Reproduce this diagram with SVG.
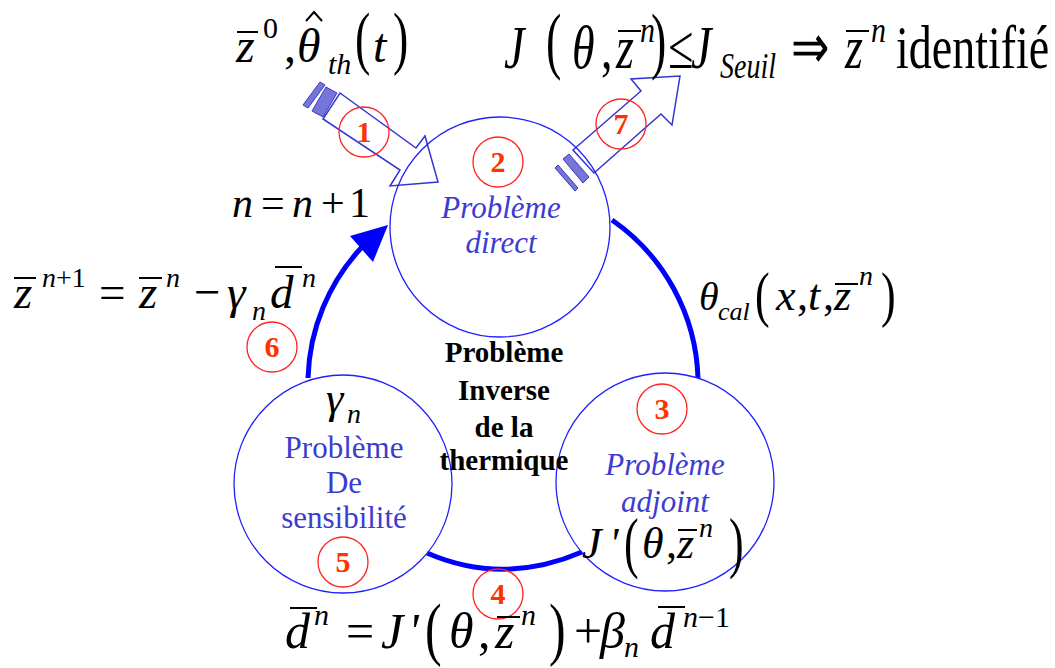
<svg xmlns="http://www.w3.org/2000/svg" width="1055" height="668" viewBox="0 0 1055 668">
<style>
.node{fill:none;stroke:#1f1fff;stroke-width:1.3}
.flow{fill:none;stroke:#0000ff;stroke-width:5}
.blk{fill:none;stroke:#3434d4;stroke-width:1.5;stroke-linejoin:miter}
.stripe{fill:#7676d8;stroke:#3a3ac4;stroke-width:1}
.badge{fill:none;stroke:#ff2424;stroke-width:1.3}
.num{font-family:"Liberation Serif",serif;font-weight:bold;font-size:30px;fill:#ff3300;text-anchor:middle}
.lbl{font-family:"Liberation Serif",serif;font-size:31px;fill:#3c3cd0;text-anchor:middle}
.it{font-style:italic}
.ctr{font-family:"Liberation Serif",serif;font-weight:bold;font-size:29px;fill:#000;text-anchor:middle}
.eq{font-family:"Liberation Serif",serif;fill:#000}
.eqi{font-family:"Liberation Serif",serif;font-style:italic;fill:#000}
.bar{stroke:#000;stroke-width:2}
</style>

<g id="connectors">
  <path class="flow" d="M612,220 A200,200 0 0 1 698,378"/>
  <path class="flow" d="M427,553 Q503,586 582,552"/>
  <path class="flow" d="M308,378 A200,200 0 0 1 362,247"/>
  <polygon points="388,225 350,236 373,262" fill="#0000ff"/>
  <g id="arrow-in">
    <polygon class="stripe" points="320,82 325,85 308,108 303,105"/>
    <polygon class="stripe" points="326,87 337,93 323,117 312,111"/>
    <polygon class="blk" points="340,93 416,148 425,136 438,182 390,186 400,170 323,119"/>
  </g>
  <g id="arrow-out">
    <polygon class="stripe" points="563,159 569,154 589,177 583,183"/>
    <polygon class="stripe" points="555,168 558,165 578,188 575,191"/>
    <polygon class="blk" points="573,150 641,91 631,79 680,76 672,125 661,114 594,173"/>
  </g>
</g>

<g id="node-direct">
  <circle class="node" cx="500" cy="227" r="110"/>
  <circle class="badge" cx="498" cy="162" r="25"/>
  <text class="num" x="498" y="172">2</text>
  <text class="lbl it" x="501" y="218">Problème</text>
  <text class="lbl it" x="501" y="253">direct</text>
</g>

<g id="node-adjoint">
  <circle class="node" cx="665" cy="482" r="109"/>
  <circle class="badge" cx="662" cy="409" r="25"/>
  <text class="num" x="662" y="419">3</text>
  <text class="lbl it" x="665" y="475">Problème</text>
  <text class="lbl it" x="665" y="512">adjoint</text>
  <text class="eqi" x="582" y="558" font-size="44">J</text>
  <text class="eqi" x="609" y="558" font-size="44">'</text>
  <text class="eq" transform="translate(624,565) scale(1,1.55)" font-size="44">(</text>
  <text class="eqi" x="642" y="558" font-size="44">θ</text>
  <text class="eq" x="666" y="558" font-size="44">,</text>
  <text class="eqi" x="677" y="558" font-size="44">z</text>
  <text class="eqi" x="699" y="537" font-size="28">n</text>
  <text class="eq" transform="translate(729,565) scale(1,1.55)" font-size="44">)</text>
  <line class="bar" x1="678" y1="530" x2="697" y2="530"/>
</g>

<g id="node-sensibilite">
  <circle class="node" cx="343" cy="484" r="109"/>
  <circle class="badge" cx="343" cy="562" r="25"/>
  <text class="num" x="343" y="572">5</text>
  <text class="lbl" x="344" y="458" font-size="30">Problème</text>
  <text class="lbl" x="344" y="493" font-size="30">De</text>
  <text class="lbl" x="344" y="528" font-size="30">sensibilité</text>
  <text class="eqi" x="326" y="413" font-size="44">γ</text>
  <text class="eqi" x="347" y="423" font-size="28">n</text>
</g>

<g id="center-title">
  <text class="ctr" x="504" y="362">Problème</text>
  <text class="ctr" x="504" y="400">Inverse</text>
  <text class="ctr" x="504" y="437">de la</text>
  <text class="ctr" x="504" y="470">thermique</text>
</g>

<g id="badges">
  <circle class="badge" cx="364" cy="132" r="25"/>
  <text class="num" x="364" y="142">1</text>
  <circle class="badge" cx="621" cy="124" r="25"/>
  <text class="num" x="621" y="134">7</text>
  <circle class="badge" cx="498" cy="594" r="25"/>
  <text class="num" x="498" y="604">4</text>
  <circle class="badge" cx="272" cy="347" r="25"/>
  <text class="num" x="272" y="357">6</text>
</g>

<g id="label-input">
  <text class="eqi" x="236" y="62" font-size="48">z</text>
  <line class="bar" x1="237" y1="32" x2="258" y2="32"/>
  <text class="eq" x="263" y="38" font-size="30">0</text>
  <text class="eq" x="284" y="62" font-size="48">,</text>
  <text class="eqi" x="297" y="62" font-size="48">θ</text>
  <polyline points="306,21 314,12 322,21" fill="none" stroke="#000" stroke-width="2"/>
  <text class="eqi" x="328" y="74" font-size="30">th</text>
  <text class="eq" transform="translate(355,61) scale(1,1.5)" font-size="46">(</text>
  <text class="eqi" x="373" y="62" font-size="48">t</text>
  <text class="eq" transform="translate(393,61) scale(1,1.5)" font-size="46">)</text>
</g>

<g id="label-output">
  <text class="eqi" transform="translate(504,68) scale(1,1.35)" font-size="46">J</text>
  <text class="eq" transform="translate(546,65) scale(1,1.6)" font-size="46">(</text>
  <text class="eqi" transform="translate(572,68) scale(1,1.35)" font-size="46">θ</text>
  <text class="eq" transform="translate(601,68) scale(1,1.35)" font-size="46">,</text>
  <text class="eqi" transform="translate(616,68) scale(1,1.35)" font-size="46">z</text>
  <line class="bar" x1="618" y1="31" x2="641" y2="31"/>
  <text class="eqi" transform="translate(640,42) scale(1,1.2)" font-size="30">n</text>
  <text class="eq" transform="translate(651,65) scale(1,1.6)" font-size="46">)</text>
  <text class="eq" transform="translate(668,68) scale(1,1.35)" font-size="46">≤</text>
  <text class="eqi" transform="translate(691,68) scale(1,1.35)" font-size="46">J</text>
  <text class="eqi" transform="translate(720,78) scale(1,1.3)" font-size="28">Seuil</text>
  <text class="eq" transform="translate(791,68) scale(1,1.35)" font-size="46">⇒</text>
  <text class="eqi" transform="translate(845,68) scale(1,1.35)" font-size="46">z</text>
  <line class="bar" x1="846" y1="31" x2="869" y2="31"/>
  <text class="eqi" transform="translate(871,42) scale(1,1.2)" font-size="30">n</text>
  <text class="eq" transform="translate(896,68) scale(1,1.35)" font-size="46">identifié</text>
</g>

<g id="label-iter">
  <text class="eqi" x="232" y="217" font-size="42">n</text>
  <text class="eq" x="261" y="217" font-size="42">=</text>
  <text class="eqi" x="292" y="217" font-size="42">n</text>
  <text class="eq" x="321" y="217" font-size="42">+</text>
  <text class="eq" x="349" y="217" font-size="42">1</text>
</g>

<g id="label-update">
  <text class="eqi" x="14" y="308" font-size="47">z</text>
  <line class="bar" x1="14" y1="278" x2="36" y2="278"/>
  <text class="eq" x="42" y="287" font-size="28"><tspan font-style="italic">n</tspan>+1</text>
  <text class="eq" x="99" y="308" font-size="47">=</text>
  <text class="eqi" x="139" y="308" font-size="47">z</text>
  <line class="bar" x1="139" y1="278" x2="162" y2="278"/>
  <text class="eqi" x="166" y="287" font-size="28">n</text>
  <text class="eq" x="194" y="308" font-size="47">−</text>
  <text class="eqi" x="227" y="308" font-size="47">γ</text>
  <text class="eqi" x="252" y="320" font-size="28">n</text>
  <text class="eqi" x="270" y="308" font-size="47">d</text>
  <line class="bar" x1="275" y1="267" x2="302" y2="267"/>
  <text class="eqi" x="302" y="287" font-size="28">n</text>
</g>

<g id="label-theta">
  <text class="eqi" x="699" y="310" font-size="40">θ</text>
  <text class="eqi" x="718" y="320" font-size="26">cal</text>
  <text class="eq" transform="translate(755,315) scale(1,1.4)" font-size="44">(</text>
  <text class="eqi" x="776" y="310" font-size="44">x</text>
  <text class="eq" x="797" y="310" font-size="44">,</text>
  <text class="eqi" x="808" y="310" font-size="44">t</text>
  <text class="eq" x="823" y="310" font-size="44">,</text>
  <text class="eqi" x="834" y="310" font-size="44">z</text>
  <line class="bar" x1="835" y1="284" x2="858" y2="284"/>
  <text class="eqi" x="859" y="285" font-size="28">n</text>
  <text class="eq" transform="translate(881,315) scale(1,1.4)" font-size="44">)</text>
</g>

<g id="label-descent">
  <text class="eqi" x="285" y="648" font-size="50">d</text>
  <line class="bar" x1="290" y1="608" x2="317" y2="608"/>
  <text class="eqi" x="314" y="625" font-size="30">n</text>
  <text class="eq" x="346" y="648" font-size="50">=</text>
  <text class="eqi" x="381" y="648" font-size="50">J</text>
  <text class="eqi" x="408" y="648" font-size="50">'</text>
  <text class="eq" transform="translate(425,652) scale(1,1.41)" font-size="50">(</text>
  <text class="eqi" x="449" y="648" font-size="50">θ</text>
  <text class="eq" x="478" y="648" font-size="50">,</text>
  <text class="eqi" x="495" y="648" font-size="50">z</text>
  <line class="bar" x1="497" y1="617" x2="520" y2="617"/>
  <text class="eqi" x="521" y="625" font-size="30">n</text>
  <text class="eq" transform="translate(549,652) scale(1,1.41)" font-size="50">)</text>
  <text class="eq" x="574" y="648" font-size="50">+</text>
  <text class="eqi" x="600" y="648" font-size="50">β</text>
  <text class="eqi" x="624" y="657" font-size="30">n</text>
  <text class="eqi" x="650" y="648" font-size="50">d</text>
  <line class="bar" x1="658" y1="607" x2="685" y2="607"/>
  <text class="eq" x="683" y="627" font-size="30"><tspan font-style="italic">n</tspan>−1</text>
</g>
</svg>
